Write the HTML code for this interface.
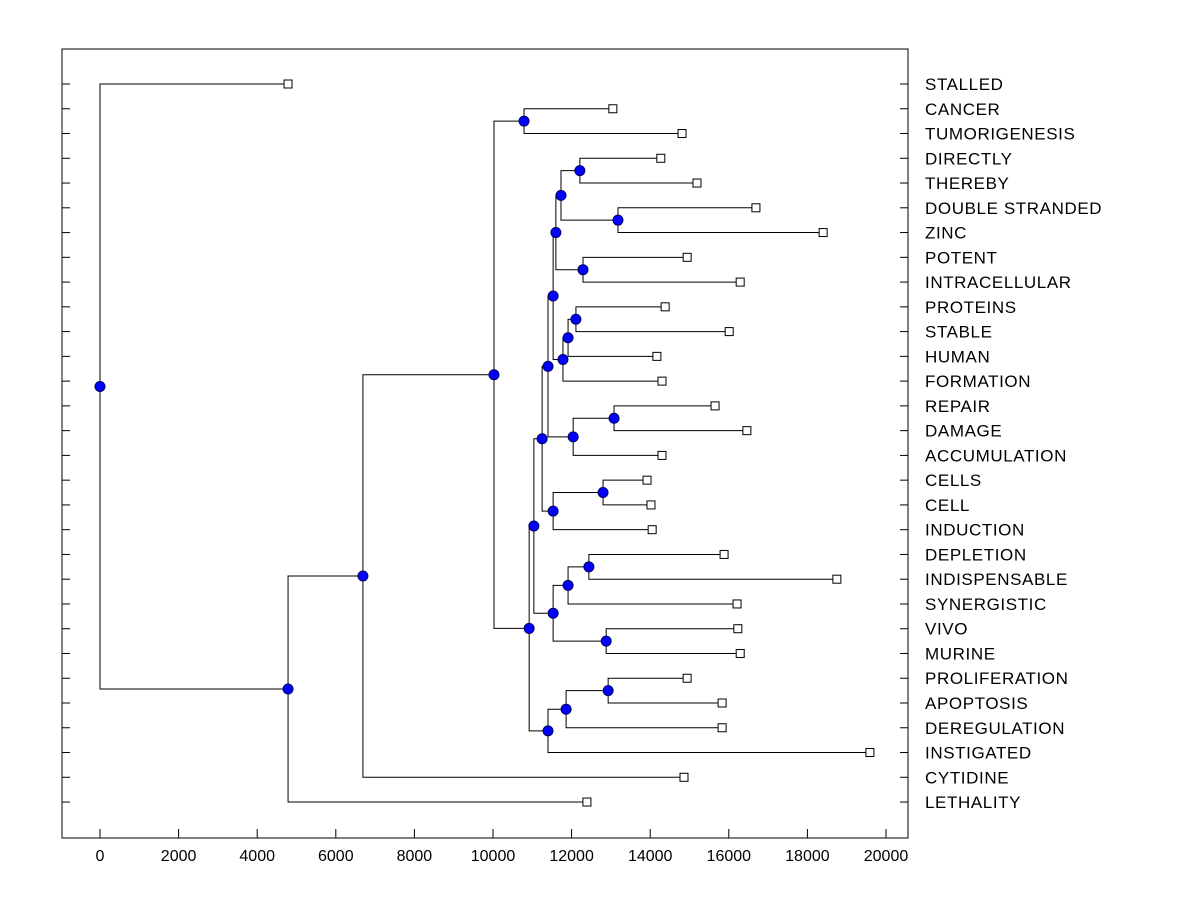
<!DOCTYPE html>
<html><head><meta charset="utf-8"><style>
body{margin:0;background:#fff}
svg text{font-family:"Liberation Sans",Arial,sans-serif}
</style></head><body>
<svg id="chart" width="1200" height="900" xmlns="http://www.w3.org/2000/svg">
<rect x="62" y="49" width="846" height="789" fill="#fff" stroke="#000" stroke-width="1"/>
<g id="links"></g><g id="marks"></g><g id="axes"></g>
</svg>
<script>
const leafNames=["STALLED","CANCER","TUMORIGENESIS","DIRECTLY","THEREBY","DOUBLE STRANDED","ZINC","POTENT","INTRACELLULAR","PROTEINS","STABLE","HUMAN","FORMATION","REPAIR","DAMAGE","ACCUMULATION","CELLS","CELL","INDUCTION","DEPLETION","INDISPENSABLE","SYNERGISTIC","VIVO","MURINE","PROLIFERATION","APOPTOSIS","DEREGULATION","INSTIGATED","CYTIDINE","LETHALITY"];
const leafValues=[4785,13050,14810,14270,15190,16690,18400,14940,16290,14380,16010,14170,14300,15650,16460,14300,13920,14020,14050,15880,18750,16210,16230,16290,14940,15830,15830,19590,14860,12390];
const mergeIds=["R","S","P","Q","N","U","T","O","L","V","M","J","W","K","H","Z","X","Y","I","F","AB","AA","G","E","D","C","B","A","ROOT"];
const mergeLeft=["DIRECTLY","DOUBLE STRANDED","R","POTENT","P","PROTEINS","U","T","N","REPAIR","V","L","CELLS","W","J","DEPLETION","Z","VIVO","X","H","PROLIFERATION","AB","AA","F","CANCER","D","C","B","STALLED"];
const mergeRight=["THEREBY","ZINC","S","INTRACELLULAR","Q","STABLE","HUMAN","FORMATION","O","DAMAGE","ACCUMULATION","M","CELL","INDUCTION","K","INDISPENSABLE","SYNERGISTIC","MURINE","Y","I","APOPTOSIS","DEREGULATION","INSTIGATED","G","TUMORIGENESIS","E","CYTIDINE","LETHALITY","A"];
const mergeHeights=[12210,13180,11730,12290,11600,12110,11910,11780,11530,13080,12040,11400,12800,11530,11250,12440,11910,12880,11530,11040,12930,11860,11400,10920,10790,10025,6690,4785,0];
const xTicks=[0,2000,4000,6000,8000,10000,12000,14000,16000,18000,20000];

const NS="http://www.w3.org/2000/svg";
const xS=v=>100+v*0.0393;
const yS=i=>84+i*24.76;
function mk(tag,attrs,parent){const e=document.createElementNS(NS,tag);for(const k in attrs)e.setAttribute(k,attrs[k]);parent.appendChild(e);return e;}
const links=document.getElementById('links'),marks=document.getElementById('marks'),axes=document.getElementById('axes');
const pos={};
leafNames.forEach((n,i)=>{pos[n]={x:xS(leafValues[i]),y:yS(i)};});
mergeIds.forEach((id,k)=>{
  const a=pos[mergeLeft[k]],b=pos[mergeRight[k]],x=xS(mergeHeights[k]);
  const p=mk('path',{d:`M${a.x},${a.y}H${x}V${b.y}H${b.x}`,fill:'none',stroke:'#000','stroke-width':1},links);
  
  
  pos[id]={x:x,y:(a.y+b.y)/2};
});
mergeIds.forEach(id=>{
  const c=mk('circle',{cx:pos[id].x,cy:pos[id].y,r:5,fill:'#0000ff',stroke:'#000060','stroke-width':1},marks);
  
  
});
leafNames.forEach((n,i)=>{
  const p=pos[n];
  const r=mk('rect',{x:p.x-4,y:p.y-4,width:8,height:8,fill:'#fff',stroke:'#000','stroke-width':1},marks);
  
  
  const t=mk('text',{x:925,y:p.y+6,'font-size':17,'letter-spacing':'0.6',fill:'#000'},axes);
  t.textContent=n;
  
  
  const tk=mk('line',{x1:62,x2:70,y1:p.y,y2:p.y,stroke:'#000'},axes);
  
  
  const tk2=mk('line',{x1:900,x2:908,y1:p.y,y2:p.y,stroke:'#000'},axes);
  
  
});
xTicks.forEach(v=>{
  const x=xS(v);
  const l=mk('line',{x1:x,x2:x,y1:829,y2:838,stroke:'#000'},axes);
  
  
  const t=mk('text',{x:x,y:861,'font-size':16,'text-anchor':'middle',fill:'#000'},axes);
  t.textContent=v;
  
  
});
</script>
</body></html>
